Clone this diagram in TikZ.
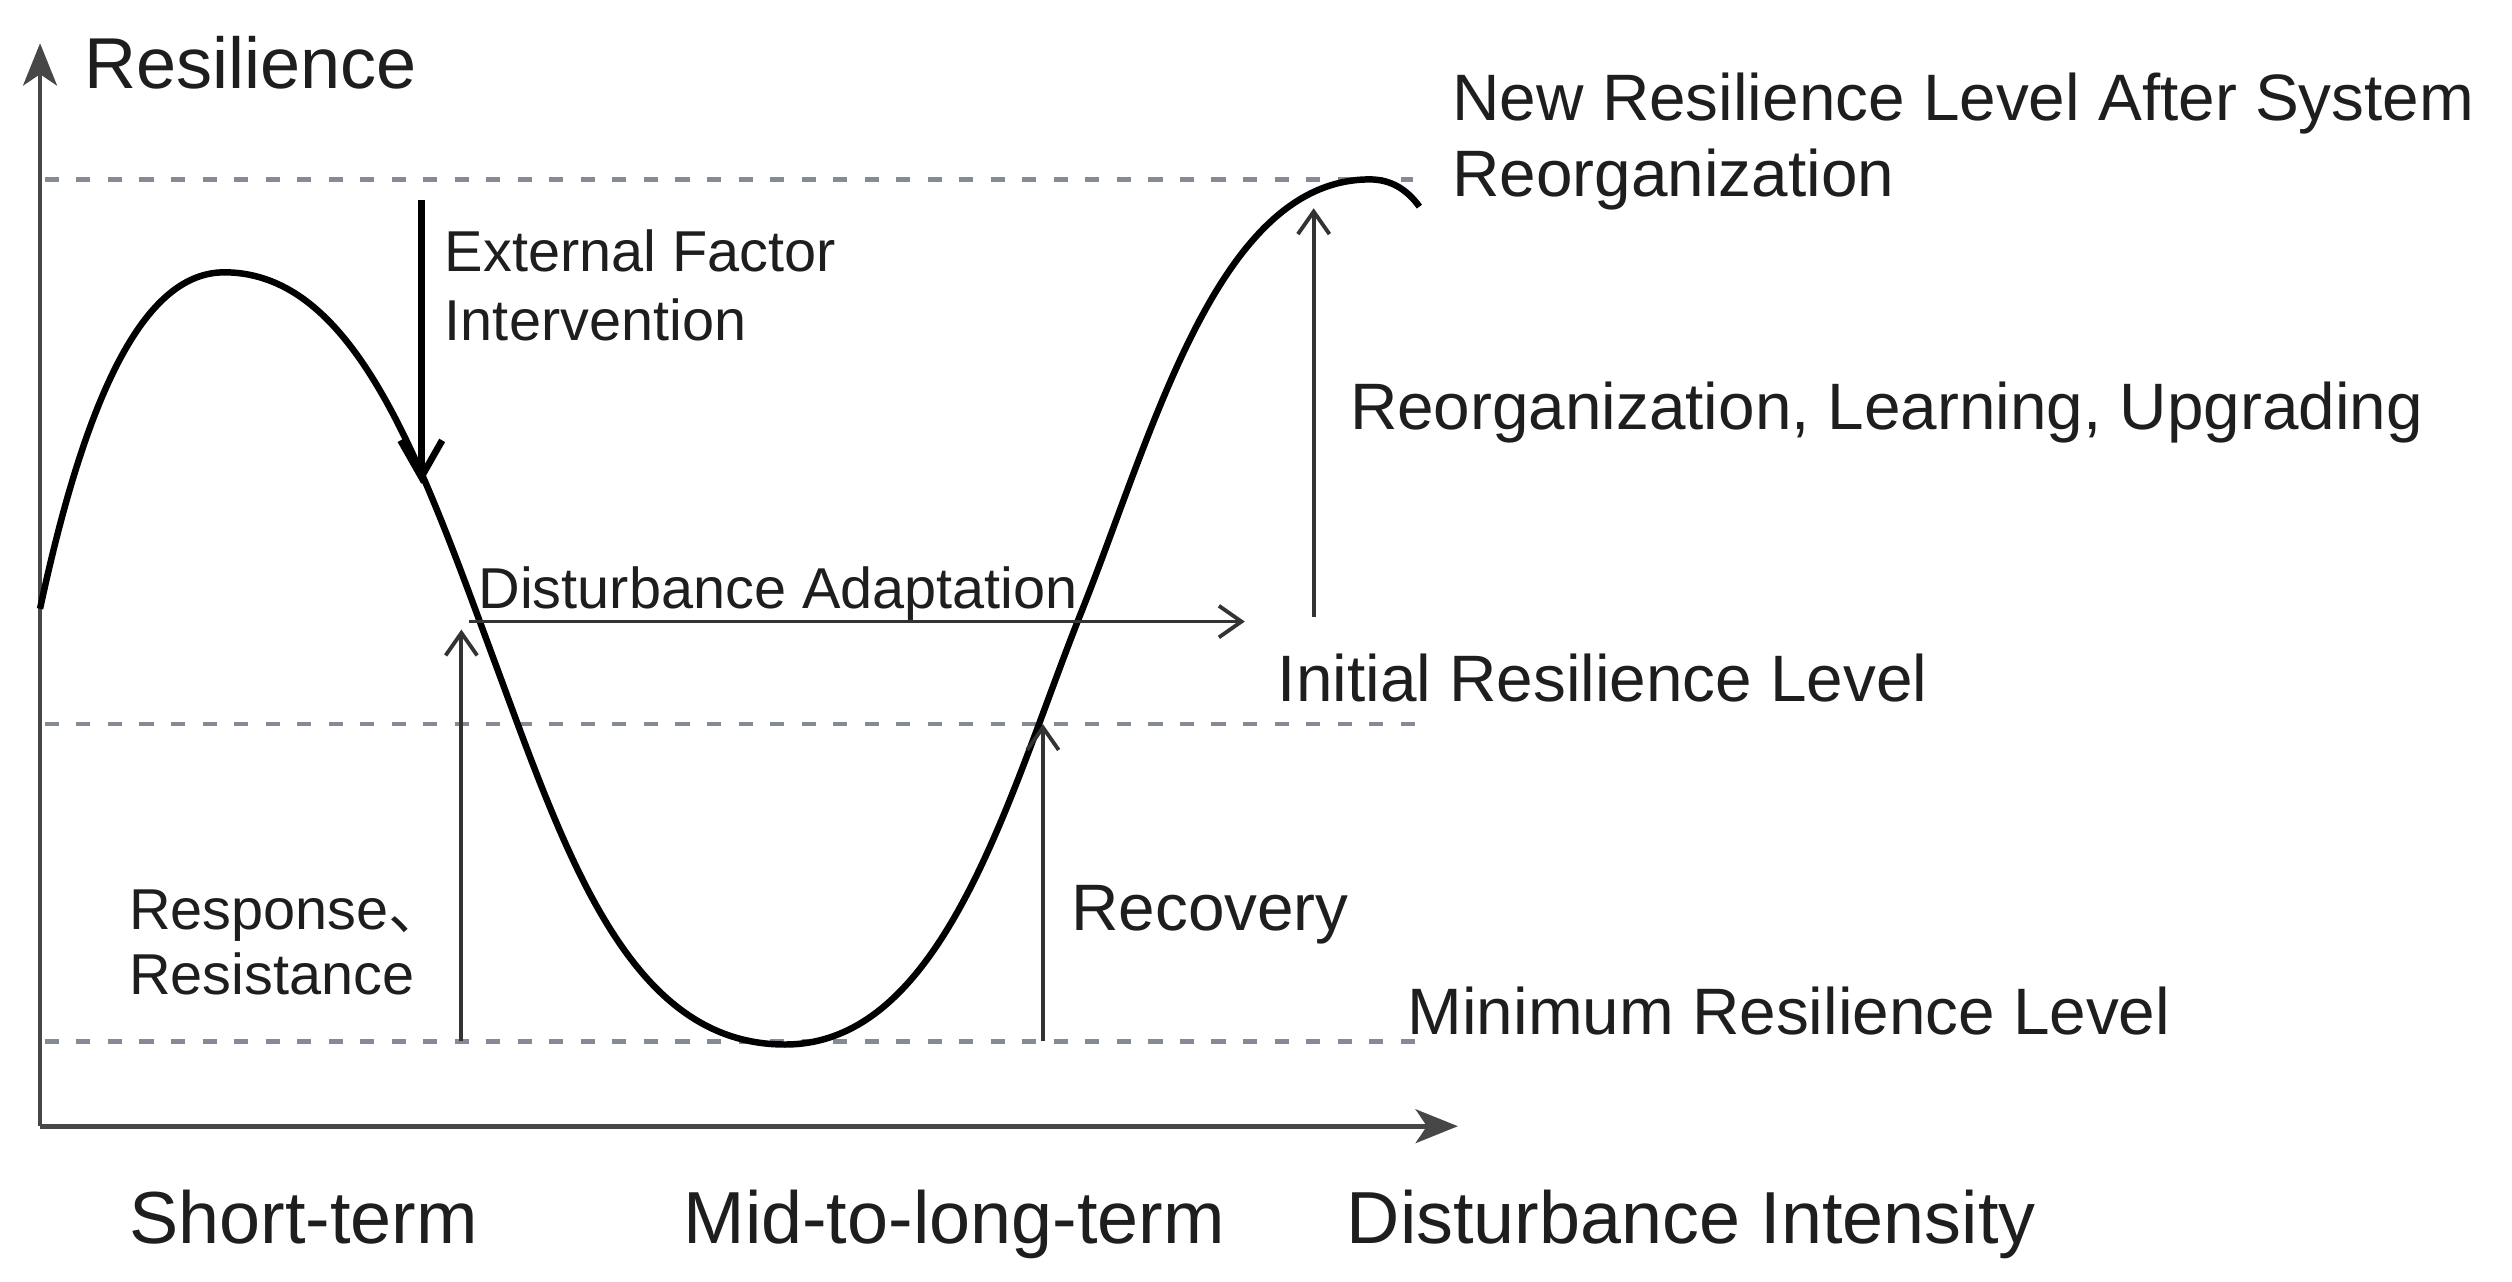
\documentclass[tikz,border=0pt]{standalone}
\usepackage{fontspec}
\setmainfont{Liberation Sans}
\newfontfamily\cjkfont{Noto Sans CJK SC}
\usetikzlibrary{arrows.meta}
\definecolor{txt}{HTML}{1E1E1E}
\definecolor{axiscol}{HTML}{474747}
\definecolor{arrcol}{HTML}{333333}
\definecolor{dashcol}{HTML}{858A94}
\newcommand\fszAxis{\fontsize{13.1pt}{15pt}\selectfont}
\newcommand\fszTitle{\fontsize{12.8pt}{15pt}\selectfont}
\newcommand\fszMain{\fontsize{11.66pt}{13.4pt}\selectfont}
\newcommand\fszSmall{\fontsize{10.24pt}{12.2pt}\selectfont}
\newcommand\fszResp{\fontsize{10.24pt}{11.4pt}\selectfont}
\begin{document}
\begin{tikzpicture}[x=0.1mm,y=-0.1mm,
  lbl/.style={inner sep=0pt, anchor=base west, text=txt},
  mlbl/.style={inner sep=0pt, anchor=north west, align=left, text=txt},
  axisline/.style={draw=axiscol, line width=0.85pt, -{Stealth[length=7.5pt,width=6pt,inset=2pt]}},
  levelline/.style={draw=dashcol, line width=0.85pt, dash pattern=on 2.5pt off 3.1pt},
  thinarrow/.style={draw=arrcol, line width=0.68pt, -{Straight Barb[length=4pt,width=5.6pt]}},
  thickarrow/.style={draw=black, line width=1.2pt, -{Straight Barb[length=6.5pt,width=7.4pt]}},
  curveline/.style={draw=black, line width=1.15pt}
]
\fill[white] (0,0) rectangle (1568,800);
\useasboundingbox (0,0) rectangle (1568,800);

% coordinates
\coordinate (O) at (25,703);
\coordinate (ytip) at (25,27);
\coordinate (xtip) at (910,703);
\coordinate (topA) at (28,112);  \coordinate (topB) at (882,112);
\coordinate (midA) at (28,452);  \coordinate (midB) at (884,452);
\coordinate (lowA) at (28,650);  \coordinate (lowB) at (884,650);
\coordinate (extS) at (263,125); \coordinate (extE) at (263,302);
\coordinate (rrS) at (288,650);  \coordinate (rrE) at (288,393);
\coordinate (daS) at (293,388);  \coordinate (daE) at (777,388);
\coordinate (recS) at (651,650); \coordinate (recE) at (651,452);
\coordinate (reoS) at (820,385); \coordinate (reoE) at (820,130);

% level lines
\draw[levelline] (topA) -- (topB);
\draw[levelline] (midA) -- (midB);
\draw[levelline] (lowA) -- (lowB);

% axes
\draw[axisline] (O) -- (ytip);
\draw[axisline] (O) -- (xtip);

% resilience curve
\draw[curveline] (25,380) .. controls (55,240) and (92,170) .. (140,170)
  .. controls (222,170) and (263,289.5) .. (308,411)
  .. controls (353,532.5) and (392,652) .. (490,652)
  .. controls (590,652) and (630,494.5) .. (675,382)
  .. controls (720,269.5) and (760,112) .. (855,112)
  .. controls (868,112) and (878,118) .. (886,129);

% arrows
\draw[thickarrow] (extS) -- (extE);
\draw[thinarrow] (rrS) -- (rrE);
\draw[thinarrow] (daS) -- (daE);
\draw[thinarrow] (recS) -- (recE);
\draw[thinarrow] (reoS) -- (reoE);

% labels
\node[lbl, font=\fszTitle] (tRes) at (52,55) {Resilience};
\node[mlbl, font=\fszMain] (tNew) at (906,45) {New Resilience Level After System\\Reorganization};
\node[mlbl, font=\fszSmall] (tExt) at (277,143) {External Factor\\Intervention};
\node[lbl, font=\fszMain] (tReo) at (842,268) {Reorganization, Learning, Upgrading};
\node[lbl, font=\fszSmall] (tDA) at (298,380) {Disturbance Adaptation};
\node[lbl, font=\fszMain] (tInit) at (797,438) {Initial Resilience Level};
\node[mlbl, font=\fszResp] (tResp) at (80,555) {Response{\cjkfont 、}\\Resistance};
\node[lbl, font=\fszMain] (tRec) at (668,581) {Recovery};
\node[lbl, font=\fszMain] (tMin) at (878,646) {Minimum Resilience Level};
\node[lbl, font=\fszAxis] (tShort) at (80,776) {Short-term};
\node[lbl, font=\fszAxis] (tMid) at (426,776) {Mid-to-long-term};
\node[lbl, font=\fszAxis] (tDI) at (840,776) {Disturbance Intensity};
\end{tikzpicture}
\end{document}
